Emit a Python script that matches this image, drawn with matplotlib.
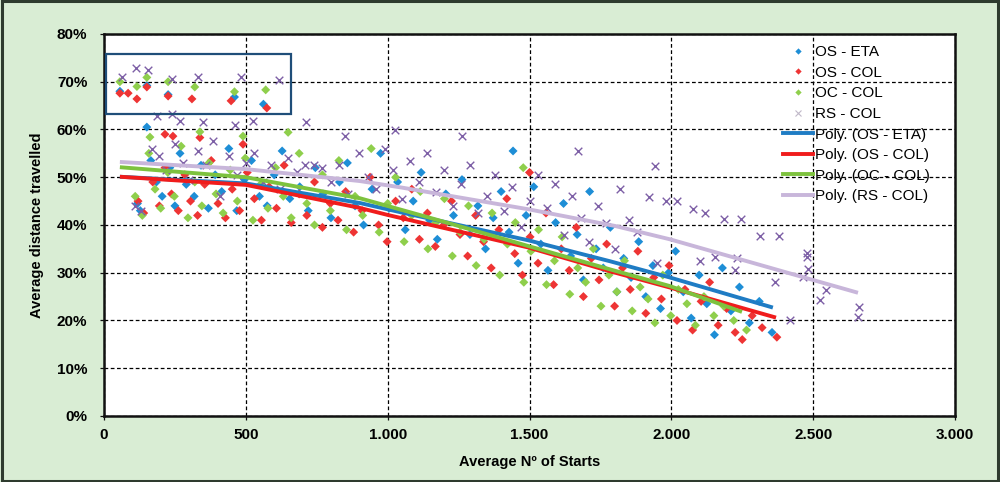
import matplotlib
matplotlib.use("Agg")
import matplotlib.pyplot as plt
from matplotlib.patches import Rectangle
from matplotlib.ticker import FuncFormatter
from matplotlib.lines import Line2D

# ---------------- data (x = Average Nº of Starts, y = % distance travelled) ----------------
eta_x = [56, 151, 226, 460, 562, 151, 118, 128, 165, 185, 205, 232, 250, 268, 290, 318, 342, 368, 392, 415,
         440, 468, 495, 520, 548, 575, 600, 628, 655, 690, 720, 745, 772, 800, 830, 858, 885, 915, 945, 975,
         1005, 1035, 1062, 1090, 1118, 1148, 1175, 1205, 1232, 1262, 1290, 1318, 1345, 1372, 1400, 1428, 1442,
         1460, 1488, 1515, 1540, 1565, 1592, 1620, 1645, 1668, 1690, 1712, 1735, 1760, 1785, 1808, 1832, 1858,
         1885, 1910, 1935, 1962, 1990, 2015, 2042, 2070, 2098, 2125, 2152, 2180, 2210, 2240, 2275, 2310, 2355]
eta_y = [68.0, 69.2, 67.3, 66.8, 65.3, 60.5, 44.5, 43.0, 53.5, 49.0, 46.0, 52.0, 44.0, 55.0, 48.5, 46.0, 52.5,
         43.5, 50.5, 47.0, 56.0, 43.0, 49.5, 53.5, 46.0, 44.0, 50.5, 55.5, 45.5, 48.0, 43.0, 52.0, 46.5, 41.5,
         49.0, 53.0, 44.0, 40.0, 47.5, 55.0, 43.5, 49.0, 39.0, 45.0, 51.0, 41.0, 37.0, 46.5, 42.0, 49.5, 38.0,
         44.0, 35.0, 41.5, 47.0, 38.5, 55.5, 32.0, 42.0, 48.0, 36.0, 30.5, 40.5, 44.5, 33.5, 38.0, 28.5, 47.0,
         35.0, 31.0, 39.5, 26.0, 33.0, 29.0, 36.5, 25.0, 31.5, 22.5, 30.0, 34.5, 26.0, 20.5, 29.5, 23.5, 17.0,
         31.0, 22.0, 27.0, 19.5, 24.0, 17.5]

oscol_x = [56, 85, 116, 151, 226, 310, 448, 574, 215, 243, 338, 490, 120, 140, 172, 195, 215, 238, 262, 285,
           305, 330, 355, 378, 402, 428, 452, 478, 505, 530, 555, 582, 608, 635, 660, 688, 715, 742, 770, 798,
           825, 852, 880, 910, 938, 968, 998, 1028, 1055, 1085, 1112, 1140, 1168, 1198, 1225, 1255, 1282, 1310,
           1338, 1365, 1392, 1420, 1448, 1475, 1500, 1502, 1530, 1558, 1585, 1612, 1640, 1665, 1690, 1718, 1745,
           1772, 1800, 1828, 1855, 1882, 1910, 1938, 1965, 1992, 2020, 2048, 2075, 2105, 2135, 2165, 2195, 2225,
           2250, 2285, 2320, 2372]
oscol_y = [67.6, 67.6, 66.4, 68.9, 67.0, 66.4, 66.0, 64.5, 59.0, 58.6, 58.3, 56.9, 45.0, 42.5, 49.0, 44.0,
           52.0, 46.5, 43.0, 50.5, 45.0, 42.0, 48.5, 53.5, 44.5, 41.5, 47.5, 43.0, 51.0, 45.5, 41.0, 48.0, 43.5,
           52.5, 40.5, 46.5, 42.0, 49.0, 39.5, 44.5, 41.0, 47.0, 38.5, 43.0, 50.0, 40.0, 36.5, 45.0, 41.5, 47.5,
           37.0, 42.5, 35.5, 40.0, 45.0, 38.0, 33.5, 42.0, 36.5, 31.0, 39.0, 45.5, 34.0, 29.5, 51.0, 37.5, 32.0,
           42.5, 27.5, 35.0, 30.5, 39.5, 25.0, 33.0, 28.5, 36.0, 23.0, 31.0, 26.5, 34.5, 21.5, 29.0, 24.5, 31.5,
           20.0, 26.5, 18.0, 24.0, 28.0, 19.0, 22.5, 17.5, 16.0, 21.0, 18.5, 16.5]

occol_x = [56, 116, 151, 226, 320, 460, 570, 162, 338, 490, 649, 110, 135, 158, 180, 200, 225, 248, 272, 296,
           320, 345, 370, 395, 420, 445, 470, 498, 525, 552, 578, 605, 632, 660, 688, 715, 742, 770, 798, 828,
           855, 885, 912, 942, 970, 1000, 1028, 1058, 1085, 1115, 1142, 1170, 1200, 1228, 1255, 1285, 1312, 1340,
           1368, 1395, 1422, 1450, 1478, 1480, 1505, 1532, 1560, 1588, 1615, 1642, 1670, 1698, 1725, 1752, 1780,
           1808, 1835, 1862, 1890, 1918, 1942, 1970, 1998, 2025, 2055, 2085, 2115, 2150, 2185, 2220, 2265]
occol_y = [70.0, 69.0, 70.9, 70.0, 68.9, 67.9, 68.3, 58.4, 59.5, 58.6, 59.4, 46.0, 42.0, 55.0, 47.5, 43.5,
           51.0, 46.0, 56.5, 41.5, 49.0, 44.0, 53.0, 46.5, 42.5, 51.5, 45.0, 54.0, 41.0, 48.5, 43.5, 52.0, 46.0,
           41.5, 55.0, 44.5, 40.0, 50.5, 43.0, 53.5, 39.0, 46.0, 42.0, 56.0, 38.5, 44.5, 50.0, 36.5, 42.0, 47.0,
           35.0, 40.5, 45.5, 33.5, 38.5, 44.0, 31.5, 37.0, 42.5, 29.5, 36.0, 40.5, 52.0, 28.0, 34.5, 39.0, 27.5,
           32.5, 37.5, 25.5, 31.0, 28.0, 35.0, 23.0, 29.5, 26.0, 32.5, 22.0, 27.0, 24.5, 19.5, 29.5, 21.0, 26.5,
           23.5, 19.0, 25.0, 21.0, 23.0, 20.0, 18.0]

rscol_x = [63, 113, 155, 240, 331, 482, 617, 187, 240, 268, 350, 462, 526, 712, 850, 1026, 1262, 1671, 1942,
           1819, 1921, 1981, 2019, 2076, 2118, 2185, 2245, 2312, 2379, 2478, 2478, 2482, 2464, 2545, 2524, 2661,
           2658, 2418, 2365, 2224, 2231, 2153, 2100, 1949, 110, 130, 170, 195, 220, 250, 280, 300, 330, 360, 385,
           410, 440, 470, 500, 530, 560, 590, 620, 650, 680, 710, 740, 770, 800, 830, 860, 900, 930, 960, 990,
           1020, 1050, 1080, 1110, 1140, 1170, 1200, 1230, 1260, 1290, 1320, 1350, 1380, 1410, 1440, 1470, 1500,
           1530, 1560, 1590, 1620, 1650, 1680, 1710, 1740, 1770, 1800, 1850, 1880]
rscol_y = [71.0, 72.9, 72.5, 70.6, 71.0, 71.0, 70.4, 62.8, 63.2, 61.8, 61.5, 60.9, 61.8, 61.5, 58.6, 59.9,
           58.6, 55.5, 52.3, 47.5, 45.8, 45.0, 45.0, 43.3, 42.6, 41.2, 41.2, 37.6, 37.6, 34.2, 33.2, 30.7, 29.0,
           26.3, 24.2, 22.9, 20.8, 20.2, 28.0, 30.5, 33.0, 33.2, 32.4, 32.1, 44.0, 43.0, 56.0, 54.5, 51.5, 57.0,
           53.0, 49.5, 55.5, 52.5, 57.5, 46.0, 54.5, 50.5, 53.0, 55.0, 49.0, 52.5, 47.5, 54.0, 51.0, 52.5, 52.5,
           52.0, 49.0, 52.5, 46.5, 55.0, 50.0, 47.5, 56.0, 51.5, 45.5, 53.5, 49.0, 55.0, 47.0, 51.5, 44.0, 48.5,
           52.5, 42.5, 46.0, 50.5, 43.0, 48.0, 39.5, 45.0, 50.5, 43.5, 48.5, 38.0, 46.0, 41.5, 36.5, 44.0, 40.5,
           35.0, 41.0, 38.5]

# polynomial trend lines
poly_eta_x = [56, 500, 902, 1043, 1495, 1784, 1995, 2358]
poly_eta_y = [50.1, 48.7, 44.6, 42.7, 36.8, 32.4, 29.0, 22.7]
poly_oscol_x = [56, 500, 900, 1000, 1495, 1784, 1995, 2369]
poly_oscol_y = [50.1, 48.4, 43.6, 42.1, 35.3, 30.3, 26.9, 20.6]
poly_occol_x = [56, 500, 902, 1167, 1495, 1784, 1995, 2249]
poly_occol_y = [52.1, 50.0, 45.6, 41.2, 35.6, 30.7, 27.2, 21.8]
poly_rscol_x = [56, 500, 902, 1043, 1495, 1801, 1995, 2658]
poly_rscol_y = [53.2, 51.7, 49.2, 47.9, 43.3, 39.8, 37.0, 25.8]

x_ticks = [0, 500, 1000, 1500, 2000, 2500, 3000]
y_ticks = [0, 10, 20, 30, 40, 50, 60, 70, 80]
highlight_box = [8, 63.2, 658, 75.8]  # x0, y0, x1, y1

# ---------------- style ----------------
BG = "#d9edd4"
C_ETA, C_OSCOL, C_OCCOL, C_RS = "#1e8ed6", "#ee3434", "#8fcf4c", "#7d5fa6"
L_ETA, L_OSCOL, L_OCCOL, L_RS = "#1f7cc4", "#f01c1c", "#7dc23e", "#c8b6da"
FONT = ["Liberation Sans", "DejaVu Sans"]
plt.rcParams["font.family"] = FONT

fig = plt.figure(figsize=(10, 4.82), dpi=100)
fig.patch.set_facecolor(BG)
fig.patches.append(Rectangle((0.002, 0.003), 0.996, 0.994, transform=fig.transFigure,
                             fill=False, edgecolor="#2e3b2e", linewidth=2.2))

ax = fig.add_axes([0.104, 0.137, 0.851, 0.7925])
ax.set_facecolor("white")

sd = 21
ax.scatter(eta_x, eta_y, marker="D", s=sd, color=C_ETA, edgecolor="none", zorder=3, label="OS - ETA")
ax.scatter(oscol_x, oscol_y, marker="D", s=sd, color=C_OSCOL, edgecolor="none", zorder=3, label="OS - COL")
ax.scatter(occol_x, occol_y, marker="D", s=sd, color=C_OCCOL, edgecolor="none", zorder=3, label="OC - COL")
ax.scatter(rscol_x, rscol_y, marker="x", s=30, color=C_RS, linewidths=1.0, zorder=3, label="RS - COL")

lw = 2.8
ax.plot(poly_eta_x, poly_eta_y, color=L_ETA, lw=lw, zorder=4, solid_capstyle="butt")
ax.plot(poly_oscol_x, poly_oscol_y, color=L_OSCOL, lw=lw, zorder=4, solid_capstyle="butt")
ax.plot(poly_occol_x, poly_occol_y, color=L_OCCOL, lw=lw, zorder=4, solid_capstyle="butt")
ax.plot(poly_rscol_x, poly_rscol_y, color=L_RS, lw=lw, zorder=4, solid_capstyle="butt")

bx0, by0, bx1, by1 = highlight_box
ax.add_patch(Rectangle((bx0, by0), bx1 - bx0, by1 - by0, fill=False,
                       edgecolor="#1f4e79", linewidth=1.6, zorder=5))

ax.set_xlim(0, 3000)
ax.set_ylim(0, 80)
ax.set_xticks(x_ticks)
ax.set_yticks(y_ticks)
ax.xaxis.set_major_formatter(FuncFormatter(lambda v, p: f"{int(v):,}".replace(",", ".")))
ax.yaxis.set_major_formatter(FuncFormatter(lambda v, p: f"{v:.0f}%"))
ax.grid(True, color="black", linestyle=(0, (3, 2)), linewidth=0.9, zorder=1)
ax.set_axisbelow(True)
for s in ax.spines.values():
    s.set_linewidth(1.8)
    s.set_color("#111111")
ax.tick_params(axis="both", length=3, width=0.9, color="#111111", labelsize=11)
ax.tick_params(axis="y", pad=9)
ax.tick_params(axis="x", pad=6)
for lab in ax.get_xticklabels() + ax.get_yticklabels():
    lab.set_fontweight("bold")

ax.set_xlabel("Average Nº of Starts", fontsize=10.5, fontweight="bold", labelpad=9)
ax.set_ylabel("Average distance travelled", fontsize=10.5, fontweight="bold", labelpad=9)

handles = [
    Line2D([], [], linestyle="none", marker="D", markersize=3.2, color=C_ETA, markeredgewidth=0),
    Line2D([], [], linestyle="none", marker="D", markersize=3.2, color=C_OSCOL, markeredgewidth=0),
    Line2D([], [], linestyle="none", marker="D", markersize=3.2, color=C_OCCOL, markeredgewidth=0),
    Line2D([], [], linestyle="none", marker="x", markersize=5, color="#c0b8c8", markeredgewidth=0.8),
    Line2D([], [], color=L_ETA, lw=lw),
    Line2D([], [], color=L_OSCOL, lw=lw),
    Line2D([], [], color=L_OCCOL, lw=lw),
    Line2D([], [], color=L_RS, lw=lw),
]
labels = ["OS - ETA", "OS - COL", "OC - COL", "RS - COL",
          "Poly. (OS - ETA)", "Poly. (OS - COL)", "Poly. (OC - COL)", "Poly. (RS - COL)"]
leg = fig.legend(handles, labels, loc="upper left", bbox_to_anchor=(0.775, 0.922),
                 frameon=False, fontsize=11, handlelength=2.0, handletextpad=0.1,
                 labelspacing=0.43, borderpad=0.0)

fig.savefig("out.png", dpi=100, facecolor=BG)
